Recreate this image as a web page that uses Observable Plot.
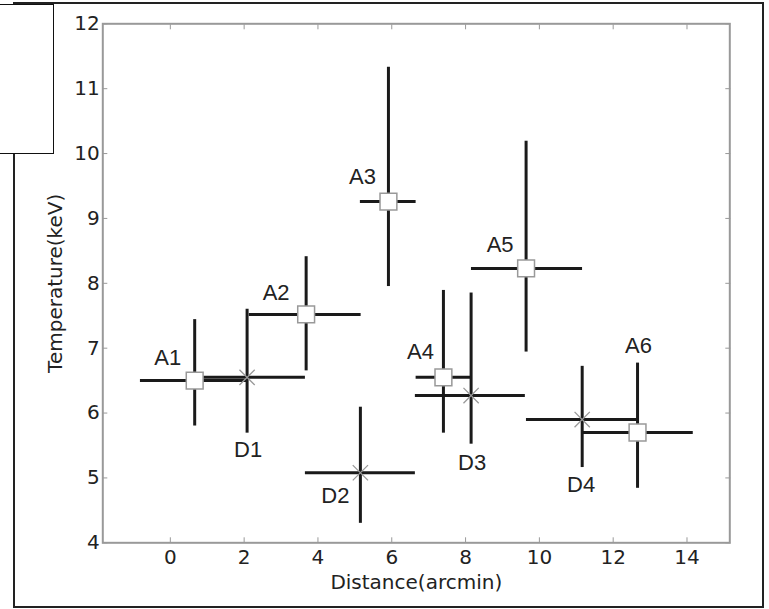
<!DOCTYPE html>
<html>
<head>
<meta charset="utf-8">
<script src="https://cdn.jsdelivr.net/npm/d3@7"></script>
<script src="https://cdn.jsdelivr.net/npm/@observablehq/plot@0.6"></script>
<style>
  html, body { margin: 0; padding: 0; background: #fff; }
  #wrap { position: relative; width: 769px; height: 609px; overflow: hidden; background: #fff; }
  #chart { position: absolute; left: 0; top: 0; }
  #outer { position: absolute; left: 13px; top: 2px; width: 751px; height: 606px; border: 2px solid #222; box-sizing: border-box; pointer-events: none; z-index: 2; }
  #box { position: absolute; left: -2px; top: 4px; width: 56px; height: 150px; border: 1.5px solid #111; box-sizing: border-box; background: #fff; z-index: 3; }
</style>
</head>
<body>
<div id="wrap">
  <div id="chart"></div>
  <div id="outer"></div>
  <div id="box"></div>
</div>
<script>
// ---- data ----
const aLabels = ["A1", "A2", "A3", "A4", "A5", "A6"];
const aDist   = [0.66, 3.68, 5.91, 7.40, 9.64, 12.66];
const aDistLo = [-0.81, 2.14, 5.15, 6.66, 8.16, 11.18];
const aDistHi = [2.11, 5.17, 6.66, 8.15, 11.17, 14.17];
const aTemp   = [6.50, 7.52, 9.26, 6.55, 8.23, 5.70];
const aTempLo = [5.80, 6.65, 7.95, 5.69, 6.94, 4.84];
const aTempHi = [7.44, 8.41, 11.33, 7.89, 10.19, 6.77];

const dLabels = ["D1", "D2", "D3", "D4"];
const dDist   = [2.08, 5.15, 8.15, 11.16];
const dDistLo = [0.89, 3.66, 6.64, 9.65];
const dDistHi = [3.66, 6.64, 9.62, 12.65];
const dTemp   = [6.55, 5.08, 6.27, 5.90];
const dTempLo = [5.69, 4.30, 5.52, 5.16];
const dTempHi = [7.60, 6.09, 7.85, 6.72];

const xTicks = [0, 2, 4, 6, 8, 10, 12, 14];
const yTicks = [4, 5, 6, 7, 8, 9, 10, 11, 12];
const xDomain = [-1.83, 15.16];
const yDomain = [4, 12];

// ---- tables ----
const A = aLabels.map((label, i) => ({label, x: aDist[i], xlo: aDistLo[i], xhi: aDistHi[i], y: aTemp[i], ylo: aTempLo[i], yhi: aTempHi[i]}));
const D = dLabels.map((label, i) => ({label, x: dDist[i], xlo: dDistLo[i], xhi: dDistHi[i], y: dTemp[i], ylo: dTempLo[i], yhi: dTempHi[i]}));
const all = A.concat(D);

// label offsets (pixels) relative to each point
const labelOffset = {
  A1: [-27, -23], A2: [-30, -21], A3: [-26, -25], A4: [-23, -25], A5: [-26, -23], A6: [1, -87],
  D1: [1, 73], D2: [-25, 23], D3: [1, 67], D4: [-1, 65]
};

const labelMarks = all.map(d => Plot.text([d], {
  x: "x", y: "y", text: "label",
  dx: labelOffset[d.label][0], dy: labelOffset[d.label][1],
  fontSize: 22, fill: "#222", fontFamily: "Liberation Sans, Arial, sans-serif",
  textAnchor: "middle", lineAnchor: "middle"
}));

const tickColor = "#999";

const plot = Plot.plot({
  width: 769,
  height: 609,
  marginLeft: 102.3,
  marginRight: 39.7,
  marginTop: 23.3,
  marginBottom: 66.7,
  style: { fontFamily: "DejaVu Sans, sans-serif", color: "#222", background: "transparent" },
  x: { domain: xDomain },
  y: { domain: yDomain },
  marks: [
    // tick labels
    Plot.axisX(xTicks, { anchor: "bottom", tickSize: 0, tickPadding: 7, fontSize: 20, label: null, tickFormat: d => String(d) }),
    Plot.axisY(yTicks, { anchor: "left", tickSize: 0, tickPadding: 3, fontSize: 20, label: null, tickFormat: d => String(d) }),
    // inward ticks on all four sides
    Plot.axisX(xTicks, { anchor: "bottom", tickSize: -5, text: null, stroke: tickColor, label: null }),
    Plot.axisX(xTicks, { anchor: "top", tickSize: -5, text: null, stroke: tickColor, label: null }),
    Plot.axisY(yTicks, { anchor: "left", tickSize: -5, text: null, stroke: tickColor, label: null }),
    Plot.axisY(yTicks, { anchor: "right", tickSize: -5, text: null, stroke: tickColor, label: null }),
    // axis titles
    Plot.text(["Distance(arcmin)"], { frameAnchor: "bottom", dy: 40, fontSize: 20, fill: "#222", text: d => d, textAnchor: "middle", lineAnchor: "middle" }),
    Plot.text(["Temperature(keV)"], { frameAnchor: "left", dx: -47, rotate: -90, fontSize: 20, fill: "#222", text: d => d, textAnchor: "middle", lineAnchor: "middle" }),
    // error bars
    Plot.ruleY(all, { y: "y", x1: "xlo", x2: "xhi", stroke: "#1a1a1a", strokeWidth: 3 }),
    Plot.ruleX(all, { x: "x", y1: "ylo", y2: "yhi", stroke: "#1a1a1a", strokeWidth: 3 }),
    // markers
    Plot.dot(D, { x: "x", y: "y", symbol: "times", r: 7, stroke: "#999", strokeWidth: 1.3 }),
    Plot.dot(A, { x: "x", y: "y", symbol: "square", r: 9.5, fill: "white", stroke: "#999", strokeWidth: 1.5 }),
    // frame
    Plot.frame({ stroke: "#999", strokeWidth: 2 }),
    ...labelMarks
  ]
});

document.getElementById("chart").appendChild(plot);
</script>
</body>
</html>
